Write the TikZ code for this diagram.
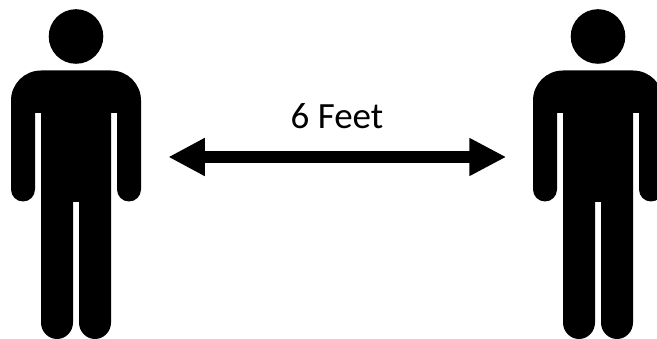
\documentclass[tikz,border=0pt]{standalone}
\usepackage{fontspec}
\setmainfont{Carlito}
\usetikzlibrary{arrows.meta}
\tikzset{
  person/.pic={
    \fill[black] (76,36.5) circle[radius=27.3];
    \fill[black]
      (41,70.5) -- (111,70.5)
      arc[start angle=90,end angle=0,x radius=30,y radius=-30] -- (141,189.5)
      arc[start angle=0,end angle=-180,x radius=12,y radius=-12] -- (117,113) -- (111,113) -- (111,322.5)
      arc[start angle=0,end angle=-180,x radius=16,y radius=-16.5] -- (79,202) -- (73,202) -- (73,322.5)
      arc[start angle=0,end angle=-180,x radius=16,y radius=-16.5] -- (41,113) -- (35,113) -- (35,189.5)
      arc[start angle=0,end angle=-180,x radius=12,y radius=-12] -- (11,100.5)
      arc[start angle=180,end angle=90,x radius=30,y radius=-30] -- cycle;
  },
  spanarrow/.style={line width=11.4pt,{Triangle[length=36.5pt,width=35.5pt]}-{Triangle[length=37pt,width=35.5pt]}},
  label/.style={font=\fontsize{37}{37}\selectfont,text=black,inner sep=0pt,anchor=base}
}
\begin{document}
\begin{tikzpicture}[x=1pt,y=-1pt]
\useasboundingbox (0,0) rectangle (657,339);
\clip (0,0) rectangle (657,339);
\pic at (0,0) {person};
\pic at (522,0) {person};
\coordinate (al) at (168.3,157);
\coordinate (ar) at (506.3,157);
\draw[spanarrow] (al) -- (ar);
\node[label] (dist) at (337,128.3) {6 Feet};
\end{tikzpicture}
\end{document}
